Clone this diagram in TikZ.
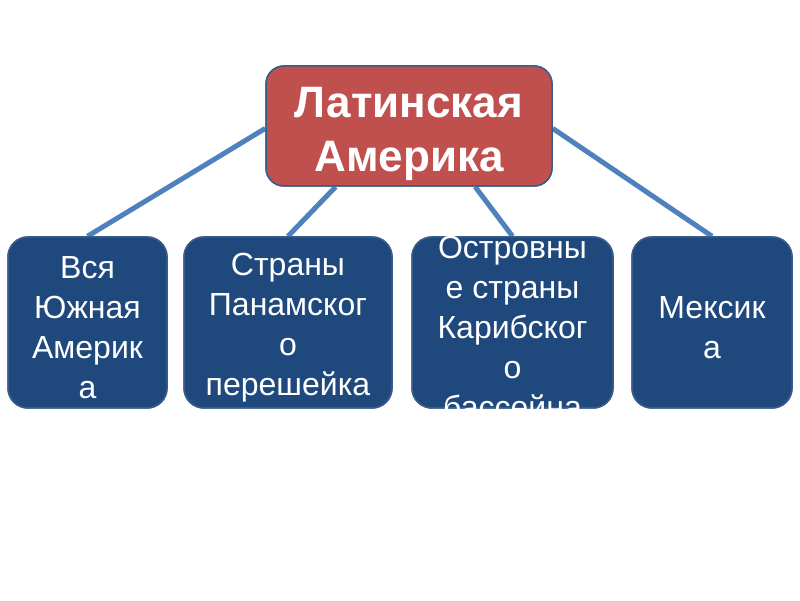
\documentclass[tikz,border=0pt]{standalone}
\usepackage{fontspec}
\setmainfont{Liberation Sans}
\usetikzlibrary{calc}
\definecolor{topfill}{HTML}{C0504D}
\definecolor{boxfill}{HTML}{1F497D}
\definecolor{edgeblue}{HTML}{385D8A}
\definecolor{linkblue}{HTML}{4F81BD}
\tikzset{
  topbox/.style={draw=edgeblue, line width=1.5pt, fill=topfill, rounded corners=18pt,
    inner sep=0pt, minimum width=286pt, minimum height=120pt},
  toptext/.style={text=white, font=\fontsize{44}{54}\selectfont\bfseries, align=center,
    inner sep=0pt, yshift=-8pt},
  subbox/.style={draw=edgeblue, line width=1.5pt, fill=boxfill, rounded corners=20pt,
    inner sep=0pt, minimum height=171pt},
  subtext/.style={text=white, font=\fontsize{32}{40}\selectfont, align=center,
    inner sep=0pt, yshift=-5pt},
  link/.style={draw=linkblue, line width=5pt}
}
\begin{document}
\begin{tikzpicture}[x=1pt,y=1pt]
\useasboundingbox (0,0) rectangle (800,600);
\fill[white] (0,0) rectangle (800,600);
\coordinate (ctop) at (409,474);
\coordinate (c1) at (87.5,277.5);
\coordinate (c2) at (288,277.5);
\coordinate (c3) at (512.5,277.5);
\coordinate (c4) at (712,277.5);
\path (ctop) node[topbox] (top) {};
\path (c1) node[subbox, minimum width=159pt] (b1) {};
\path (c2) node[subbox, minimum width=208pt] (b2) {};
\path (c3) node[subbox, minimum width=201pt] (b3) {};
\path (c4) node[subbox, minimum width=160pt] (b4) {};
\draw[link] ($(top.north west)!0.52!(top.south west)$) -- (b1.north);
\draw[link] ($(top.south west)!0.245!(top.south east)$) -- (b2.north);
\draw[link] ($(top.south west)!0.73!(top.south east)$) -- (b3.north);
\draw[link] ($(top.north east)!0.52!(top.south east)$) -- (b4.north);
\node[topbox, label={[toptext]center:{Латинская\\Америка}}] (topf) at (ctop) {};
\node[subbox, minimum width=159pt, label={[subtext]center:{Вся\\Южная\\Америк\\а}}] (b1f) at (c1) {};
\node[subbox, minimum width=208pt, label={[subtext]center:{Страны\\Панамског\\о\\перешейка}}] (b2f) at (c2) {};
\node[subbox, minimum width=201pt, label={[subtext]center:{Островны\\е страны\\Карибског\\о\\бассейна}}] (b3f) at (c3) {};
\node[subbox, minimum width=160pt, label={[subtext]center:{Мексик\\а}}] (b4f) at (c4) {};
\end{tikzpicture}
\end{document}
